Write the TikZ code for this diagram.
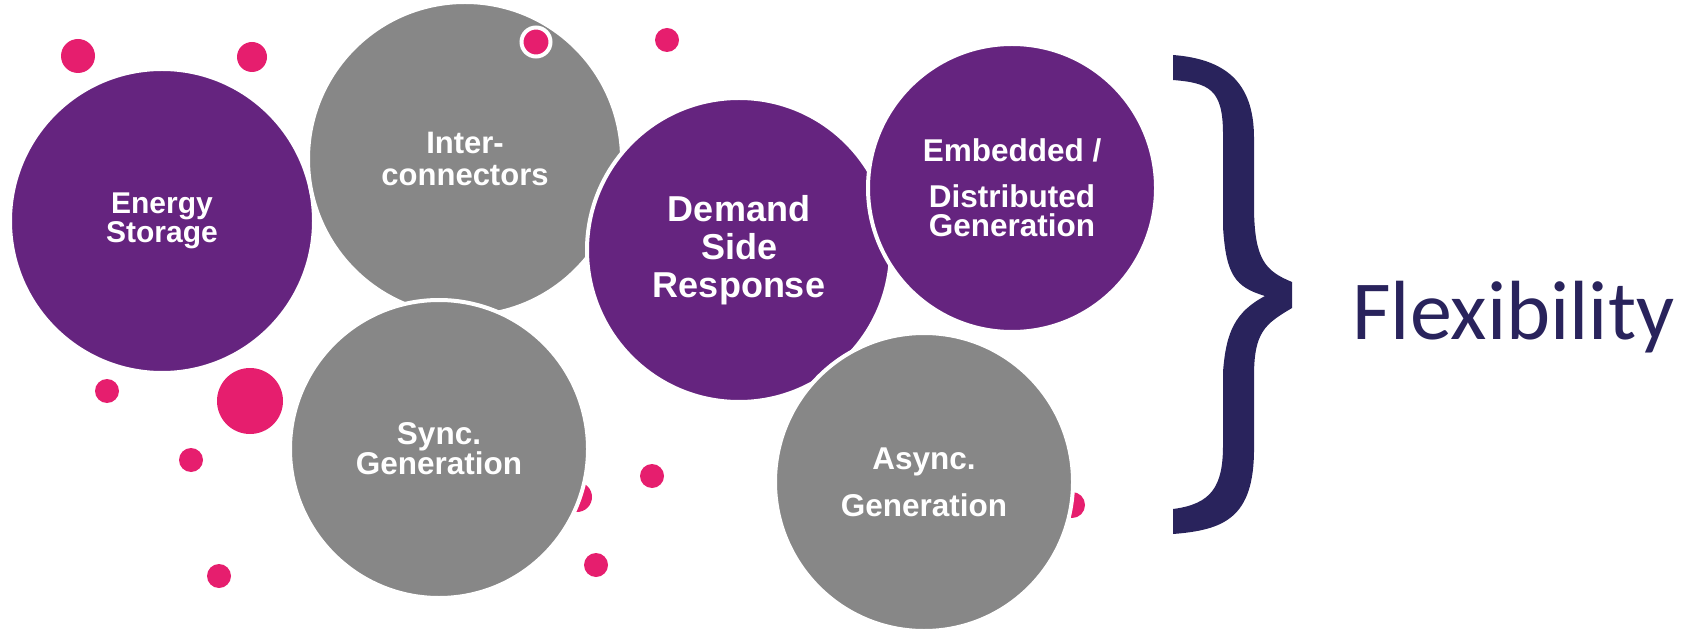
\documentclass[tikz,border=0pt]{standalone}
\usepackage{fontspec}
\setmainfont{Liberation Sans}
\newfontfamily\flexfont{Carlito}
\definecolor{purp}{HTML}{65247F}
\definecolor{greyc}{HTML}{878787}
\definecolor{pinkc}{HTML}{E61E6E}
\definecolor{navy}{HTML}{29235C}
\begin{document}
\begin{tikzpicture}[x=0.5pt,y=-0.5pt,
  bubble/.style={circle, inner sep=0pt, draw=white, line width=2pt, text=white, align=center},
  purpbubble/.style={bubble, fill=purp},
  greybubble/.style={bubble, fill=greyc},
  dotp/.style={circle, fill=pinkc, inner sep=0pt},
  lbl/.style={font=\bfseries\fontsize{#1}{#1}\selectfont}
]
\useasboundingbox (0,0) rectangle (1689,630);

% pink dots (behind the bubbles)
\node[dotp, minimum size=17pt] (d1) at (78,56) {};
\node[dotp, minimum size=15pt] (d2) at (252,57) {};
\node[dotp, minimum size=12pt] (d4) at (667,40) {};
\node[dotp, minimum size=12pt] (d5) at (107,391) {};
\node[dotp, minimum size=33pt] (d6) at (250,401) {};
\node[dotp, minimum size=12pt] (d7) at (191,460) {};
\node[dotp, minimum size=12pt] (d8) at (219,576) {};
\node[dotp, minimum size=12pt] (d9) at (652,476) {};
\node[dotp, minimum size=12pt] (d10) at (596,565) {};
\node[dotp, minimum size=15pt] (d11) at (577,497) {};
\node[dotp, minimum size=13pt] (d12) at (1072,505) {};

% bubbles
\node[purpbubble, minimum size=152pt, font=\bfseries\fontsize{15}{14.5}\selectfont] (es) at (162,221) {Energy\\Storage};
\node[greybubble, minimum size=157pt, font=\bfseries\fontsize{15.5}{16}\selectfont] (ic) at (465,159) {Inter-\\connectors};
\node[greybubble, minimum size=149pt, font=\bfseries\fontsize{15.75}{15}\selectfont] (sync) at (439,449) {Sync.\\Generation};
\node[purpbubble, minimum size=152pt, font=\bfseries\fontsize{18}{19}\selectfont] (dsr) at (739,250) {Demand\\Side\\Response};
\node[purpbubble, minimum size=144pt, font=\bfseries\fontsize{15.75}{14.5}\selectfont] (emb) at (1012,188) {Embedded /\\[8.5pt]Distributed\\Generation};
\node[greybubble, minimum size=149pt, font=\bfseries\fontsize{15.75}{23.5}\selectfont] (async) at (924,482) {Async.\\Generation};

% ringed dot on top
\node[dotp, draw=white, line width=2pt, minimum size=14.5pt] (d3) at (536,42) {};

% brace
\fill[navy] (1173,55) .. controls (1224,59) and (1254,81) .. (1254,138)
  -- (1254,211) .. controls (1255,259) and (1265,271) .. (1292,282)
  -- (1292,308) .. controls (1265,324) and (1254,332) .. (1254,376)
  -- (1254,449) .. controls (1254,518) and (1224,530) .. (1173,534)
  -- (1173,509) .. controls (1212,504) and (1223,486) .. (1223,445)
  -- (1223,372) .. controls (1226,332) and (1235,312) .. (1265,296)
  .. controls (1235,287) and (1226,275) .. (1223,227)
  -- (1223,134) .. controls (1223,89) and (1209,83) .. (1173,80) -- cycle;

\node[anchor=base west, inner sep=0pt, text=navy, font=\flexfont\fontsize{42}{50}\selectfont] (flex) at (1352,339) {Flexibility};
\end{tikzpicture}
\end{document}
